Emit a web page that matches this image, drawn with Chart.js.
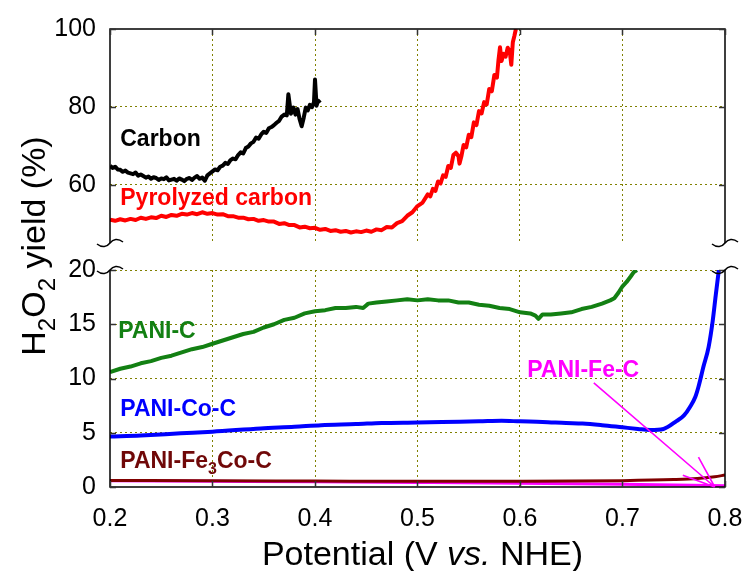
<!DOCTYPE html>
<html>
<head>
<meta charset="utf-8">
<script src="https://cdn.jsdelivr.net/npm/chart.js@4.4.1/dist/chart.umd.min.js"></script>
<style>
  html, body { margin: 0; padding: 0; background: #fff; }
  #wrap { position: relative; width: 745px; height: 571px; }
  #wrap canvas { position: absolute; left: 0; top: 0; }
</style>
</head>
<body>
<div id="wrap">
  <canvas id="topChart" width="745" height="571"></canvas>
  <canvas id="bottomChart" width="745" height="571"></canvas>
</div>
<script>
// Tick labels
const xTicks = [0.2, 0.3, 0.4, 0.5, 0.6, 0.7, 0.8];
const topTicks = [60, 80, 100];
const bottomTicks = [0, 5, 10, 15, 20];

// Carbon (upper panel)
const carbonV = [0.200, 0.2025, 0.205, 0.2075, 0.210, 0.2125, 0.215, 0.2175, 0.220, 0.2225, 0.225, 0.2275, 0.230, 0.2325, 0.235, 0.2375, 0.240, 0.2425, 0.245, 0.2475, 0.250, 0.2525, 0.255, 0.2575, 0.260, 0.2625, 0.265, 0.2675, 0.270, 0.2725, 0.275, 0.2775, 0.280, 0.2825, 0.285, 0.2875, 0.290, 0.2925, 0.295, 0.2975, 0.300, 0.3025, 0.305, 0.3075, 0.310, 0.3125, 0.315, 0.3175, 0.320, 0.3225, 0.325, 0.3275, 0.330, 0.3325, 0.335, 0.3375, 0.340, 0.3425, 0.345, 0.3475, 0.350, 0.3525, 0.355, 0.3575, 0.360, 0.3625, 0.365, 0.3675, 0.370, 0.3725, 0.374, 0.3765, 0.379, 0.381, 0.383, 0.385, 0.387, 0.389, 0.391, 0.393, 0.395, 0.397, 0.399, 0.400, 0.4015, 0.403, 0.405];
const carbonY = [64.8, 64.3, 64.6, 63.9, 63.8, 63.3, 63.6, 63.1, 62.9, 62.7, 63.1, 62.3, 62.6, 62.2, 61.8, 62.1, 61.5, 61.9, 61.7, 61.2, 61.6, 61.4, 61.9, 61.1, 61.3, 61.5, 61.0, 61.6, 61.3, 60.9, 61.5, 61.7, 61.2, 61.8, 62.2, 61.5, 61.8, 61.0, 62.4, 62.9, 63.4, 63.9, 63.7, 64.6, 64.9, 65.6, 65.3, 66.3, 66.7, 66.5, 67.6, 68.3, 68.0, 69.4, 69.8, 70.6, 71.0, 72.1, 71.8, 72.9, 73.6, 73.3, 74.5, 74.8, 75.3, 75.9, 76.4, 77.5, 78.0, 77.8, 83.2, 78.2, 79.8, 78.0, 79.4, 76.8, 75.0, 77.2, 79.8, 79.1, 80.5, 79.9, 81.2, 87.0, 80.3, 81.6, 81.0];

// Pyrolyzed carbon (upper panel)
const pyroV = [0.200, 0.205, 0.210, 0.215, 0.220, 0.225, 0.230, 0.235, 0.240, 0.245, 0.250, 0.255, 0.260, 0.265, 0.270, 0.275, 0.280, 0.285, 0.290, 0.295, 0.300, 0.305, 0.310, 0.315, 0.320, 0.325, 0.330, 0.335, 0.340, 0.345, 0.350, 0.355, 0.360, 0.365, 0.370, 0.375, 0.380, 0.385, 0.390, 0.395, 0.400, 0.405, 0.410, 0.415, 0.420, 0.425, 0.430, 0.435, 0.440, 0.445, 0.450, 0.455, 0.460, 0.465, 0.470, 0.475, 0.480, 0.485, 0.490, 0.495, 0.500, 0.505, 0.510, 0.5125, 0.515, 0.5175, 0.520, 0.5225, 0.525, 0.5275, 0.530, 0.5325, 0.535, 0.5375, 0.540, 0.541, 0.543, 0.545, 0.5475, 0.550, 0.5525, 0.555, 0.5575, 0.560, 0.5625, 0.565, 0.5675, 0.570, 0.5725, 0.575, 0.5775, 0.579, 0.5805, 0.582, 0.584, 0.586, 0.588, 0.590, 0.5915, 0.593, 0.5945, 0.596];
const pyroY = [51.0, 50.7, 51.1, 50.8, 51.2, 50.9, 51.5, 51.2, 51.6, 51.4, 52.0, 51.7, 52.2, 52.0, 52.5, 52.3, 52.7, 52.4, 52.9, 52.5, 52.7, 52.3, 52.4, 51.9, 51.9, 51.5, 51.5, 51.1, 51.2, 50.7, 50.9, 50.5, 50.5, 49.9, 50.1, 49.6, 49.6, 49.0, 49.2, 48.8, 48.9, 48.4, 48.6, 48.1, 48.3, 47.9, 48.1, 47.7, 48.0, 47.8, 48.2, 47.9, 48.5, 48.3, 49.1, 49.0, 50.1, 50.6, 52.0, 52.9, 54.5, 55.4, 57.5, 57.0, 58.9, 58.4, 60.8, 60.3, 62.4, 62.0, 64.8, 64.3, 67.6, 68.2, 67.3, 65.4, 67.5, 70.2, 69.6, 72.8, 72.2, 76.0, 75.3, 78.9, 78.3, 81.2, 80.6, 84.6, 84.0, 88.2, 87.5, 92.0, 95.3, 91.8, 93.6, 92.9, 95.2, 94.3, 90.8, 96.6, 98.2, 100.0];

// PANI-C (lower panel)
const paniCV = [0.200, 0.210, 0.220, 0.230, 0.240, 0.250, 0.260, 0.270, 0.280, 0.290, 0.300, 0.310, 0.320, 0.330, 0.340, 0.350, 0.360, 0.370, 0.380, 0.390, 0.400, 0.410, 0.420, 0.430, 0.440, 0.447, 0.452, 0.460, 0.470, 0.480, 0.490, 0.500, 0.510, 0.520, 0.530, 0.540, 0.550, 0.560, 0.570, 0.580, 0.590, 0.600, 0.610, 0.615, 0.618, 0.622, 0.630, 0.640, 0.650, 0.660, 0.670, 0.680, 0.688, 0.692, 0.696, 0.700, 0.704, 0.708, 0.711, 0.714];
const paniCY = [10.6, 10.9, 11.1, 11.4, 11.6, 11.9, 12.1, 12.4, 12.7, 12.9, 13.2, 13.5, 13.8, 14.1, 14.3, 14.7, 15.0, 15.4, 15.6, 16.0, 16.2, 16.3, 16.5, 16.5, 16.6, 16.5, 16.9, 17.0, 17.1, 17.2, 17.3, 17.2, 17.3, 17.2, 17.2, 17.0, 17.0, 16.8, 16.7, 16.5, 16.4, 16.1, 16.0, 15.8, 15.5, 15.9, 15.9, 16.0, 16.1, 16.4, 16.6, 16.9, 17.2, 17.4, 17.9, 18.5, 18.9, 19.4, 19.8, 20.0];

// PANI-Co-C
const paniCoV = [0.200, 0.230, 0.269, 0.300, 0.347, 0.380, 0.406, 0.440, 0.465, 0.500, 0.524, 0.560, 0.582, 0.600, 0.622, 0.645, 0.661, 0.680, 0.700, 0.715, 0.727, 0.740, 0.753, 0.760, 0.766, 0.771, 0.774, 0.779, 0.784, 0.788, 0.791, 0.794];
const paniCoY = [4.65, 4.75, 4.95, 5.1, 5.4, 5.55, 5.7, 5.8, 5.9, 5.95, 6.0, 6.05, 6.1, 6.05, 6.0, 5.9, 5.85, 5.7, 5.5, 5.35, 5.25, 5.35, 6.1, 6.6, 7.4, 8.3, 9.2, 11.1, 12.9, 15.3, 17.7, 20.0];

// PANI-Fe3Co-C
const paniFe3CoV = [0.20, 0.30, 0.40, 0.50, 0.60, 0.70, 0.75, 0.773, 0.79, 0.80];
const paniFe3CoY = [0.60, 0.58, 0.55, 0.52, 0.52, 0.58, 0.68, 0.78, 0.95, 1.1];

// PANI-Fe-C
const paniFeV = [0.20, 0.30, 0.40, 0.50, 0.60, 0.70, 0.80];
const paniFeY = [0.58, 0.53, 0.48, 0.42, 0.35, 0.25, 0.12];

const gridDot = 'rgb(128,128,0)';
const FONT = '"Liberation Sans", Arial, sans-serif';

function pts(xs, ys) {
  return xs.map((x, i) => ({ x: x, y: ys[i] }));
}

function line(label, xs, ys, color, width, smooth) {
  return {
    label: label,
    data: pts(xs, ys),
    borderColor: color,
    backgroundColor: color,
    borderWidth: width,
    borderJoinStyle: 'round',
    pointRadius: 0,
    cubicInterpolationMode: smooth ? 'monotone' : 'default',
    tension: smooth ? 0.4 : 0,
    fill: false
  };
}

// draws text made of parts: [text, kind] kind: 'n' normal, 's' subscript, 'i' italic
function drawRich(ctx, parts, x, y, size, weight, color, align) {
  const fontOf = (p) => {
    if (p[1] === 's') return weight + ' ' + Math.round(size * 0.7) + 'px ' + FONT;
    if (p[1] === 'i') return 'italic ' + weight + ' ' + size + 'px ' + FONT;
    return weight + ' ' + size + 'px ' + FONT;
  };
  const widths = parts.map(p => { ctx.font = fontOf(p); return ctx.measureText(p[0]).width; });
  const total = widths.reduce((s, w) => s + w, 0);
  let cx = align === 'center' ? x - total / 2 : x;
  ctx.fillStyle = color;
  ctx.textAlign = 'left';
  ctx.textBaseline = 'alphabetic';
  parts.forEach((p, i) => {
    ctx.font = fontOf(p);
    ctx.fillText(p[0], cx, p[1] === 's' ? y + size * 0.28 : y);
    cx += widths[i];
  });
}

function breakMark(ctx, x, y) {
  ctx.beginPath();
  ctx.moveTo(x - 13, y + 1);
  ctx.bezierCurveTo(x - 8, y + 5, x - 3, y + 4, x, y);
  ctx.bezierCurveTo(x + 3, y - 4, x + 8, y - 5, x + 13, y - 1);
  ctx.stroke();
}

const decor = {
  id: 'decor',
  afterDraw(chart, args, opts) {
    const ctx = chart.ctx;
    const a = chart.chartArea;
    const xs = chart.scales.x;
    const ys = chart.scales.y;
    const top = opts.panel === 'top';
    ctx.save();
    ctx.strokeStyle = '#000';
    ctx.lineWidth = 1.5;
    ctx.beginPath();
    if (top) {
      ctx.moveTo(a.left, a.bottom); ctx.lineTo(a.left, a.top);
      ctx.lineTo(a.right, a.top); ctx.lineTo(a.right, a.bottom);
    } else {
      ctx.moveTo(a.left, a.top); ctx.lineTo(a.left, a.bottom);
      ctx.lineTo(a.right, a.bottom); ctx.lineTo(a.right, a.top);
    }
    ctx.stroke();

    // inward ticks
    ctx.strokeStyle = '#333';
    ctx.lineWidth = 1.5;
    ctx.beginPath();
    xTicks.forEach(v => {
      const px = Math.round(xs.getPixelForValue(v)) + 0.5;
      if (top) { ctx.moveTo(px, a.top); ctx.lineTo(px, a.top + 6); }
      else { ctx.moveTo(px, a.bottom); ctx.lineTo(px, a.bottom - 6); }
    });
    (top ? topTicks : bottomTicks).forEach(v => {
      const py = Math.round(ys.getPixelForValue(v)) + 0.5;
      ctx.moveTo(a.left, py); ctx.lineTo(a.left + 6, py);
      ctx.moveTo(a.right, py); ctx.lineTo(a.right - 6, py);
    });
    ctx.stroke();

    // axis break marks
    ctx.strokeStyle = '#000';
    ctx.lineWidth = 1.5;
    const by = top ? a.bottom : a.top;
    breakMark(ctx, a.left, by);
    breakMark(ctx, a.right, by);

    // curve labels
    (opts.labels || []).forEach(l => {
      drawRich(ctx, l.parts, xs.getPixelForValue(l.x), ys.getPixelForValue(l.y), 23, 'bold', l.color, 'left');
    });

    if (!top) {
      // arrow pointing at PANI-Fe-C
      const x1 = xs.getPixelForValue(opts.arrow[0]), y1 = ys.getPixelForValue(opts.arrow[1]);
      const x2 = xs.getPixelForValue(opts.arrow[2]), y2 = ys.getPixelForValue(opts.arrow[3]);
      ctx.strokeStyle = '#ff00ff';
      ctx.lineWidth = 1.6;
      ctx.beginPath();
      ctx.moveTo(x1, y1); ctx.lineTo(x2, y2);
      const ang = Math.atan2(y1 - y2, x1 - x2);
      [0.36, -0.36].forEach(d => {
        ctx.moveTo(x2, y2);
        ctx.lineTo(x2 + 34 * Math.cos(ang + d), y2 + 34 * Math.sin(ang + d));
      });
      ctx.stroke();

      // x title
      drawRich(ctx, [['Potential (V ', 'n'], ['vs.', 'i'], [' NHE)', 'n']],
        (a.left + a.right) / 2 + 5, 565, 34, 'normal', '#000', 'center');

      // y title
      ctx.translate(45, 246);
      ctx.rotate(-Math.PI / 2);
      drawRich(ctx, [['H', 'n'], ['2', 's'], ['O', 'n'], ['2', 's'], [' yield (%)', 'n']],
        0, 0, 34, 'normal', '#000', 'center');
    }
    ctx.restore();
  }
};

function makeChart(id, panel, datasets, yMin, yMax, yTicks, padding, labels) {
  const isTop = panel === 'top';
  return new Chart(document.getElementById(id), {
    type: 'line',
    data: { datasets: datasets },
    options: {
      responsive: false,
      animation: false,
      devicePixelRatio: 1,
      layout: { padding: padding },
      plugins: {
        legend: { display: false },
        tooltip: { enabled: false },
        decor: { panel: panel, labels: labels, arrow: [0.672, 9.6, 0.79, 0.0] }
      },
      scales: {
        x: {
          type: 'linear',
          min: 0.2,
          max: 0.8,
          afterBuildTicks: s => { s.ticks = xTicks.map(v => ({ value: v })); },
          afterFit: s => {
            s.height = isTop ? 0 : 84;
            s.paddingLeft = 0;
            s.paddingRight = 0;
          },
          ticks: {
            display: !isTop,
            padding: 17,
            color: '#000',
            font: { family: FONT, size: 25 },
            callback: v => v.toFixed(1)
          },
          grid: {
            drawTicks: false,
            lineWidth: 1,
            color: c => (c.tick && (c.tick.value === 0.2 || c.tick.value === 0.8)) ? 'rgba(0,0,0,0)' : gridDot
          },
          border: { display: false, dash: [2, 3] }
        },
        y: {
          type: 'linear',
          min: yMin,
          max: yMax,
          afterBuildTicks: s => { s.ticks = yTicks.map(v => ({ value: v })); },
          afterFit: s => { s.width = 110; },
          ticks: {
            padding: 14,
            color: '#000',
            font: { family: FONT, size: 25 }
          },
          grid: {
            drawTicks: false,
            lineWidth: 1,
            color: c => (c.tick && (c.tick.value === 100 || c.tick.value === 0)) ? 'rgba(0,0,0,0)' : gridDot
          },
          border: { display: false, dash: [2, 3] }
        }
      }
    },
    plugins: [decor]
  });
}

makeChart('topChart', 'top', [
  line('Pyrolyzed carbon', pyroV, pyroY, '#ff0000', 4, false),
  line('Carbon', carbonV, carbonY, '#000000', 4, false)
], 45, 100, topTicks, { left: 0, top: 24, right: 20, bottom: 328 }, [
  { parts: [['Carbon', 'n']], x: 0.21, y: 70.0, color: '#000000' },
  { parts: [['Pyrolyzed carbon', 'n']], x: 0.21, y: 54.7, color: '#ff0000' }
]);

makeChart('bottomChart', 'bottom', [
  line('PANI-C', paniCV, paniCY, '#138013', 4, false),
  line('PANI-Co-C', paniCoV, paniCoY, '#0000ff', 4, true),
  line('PANI-Fe3Co-C', paniFe3CoV, paniFe3CoY, '#800000', 3, true),
  line('PANI-Fe-C', paniFeV, paniFeY, '#ff00ff', 3, true)
], 0, 20, bottomTicks, { left: 0, top: 270, right: 20, bottom: 0 }, [
  { parts: [['PANI-C', 'n']], x: 0.208, y: 13.73, color: '#138013' },
  { parts: [['PANI-Co-C', 'n']], x: 0.21, y: 6.54, color: '#0000ff' },
  { parts: [['PANI-Fe', 'n'], ['3', 's'], ['Co-C', 'n']], x: 0.21, y: 1.75, color: '#700808' },
  { parts: [['PANI-Fe-C', 'n']], x: 0.607, y: 10.14, color: '#ff00ff' }
]);
</script>
</body>
</html>
